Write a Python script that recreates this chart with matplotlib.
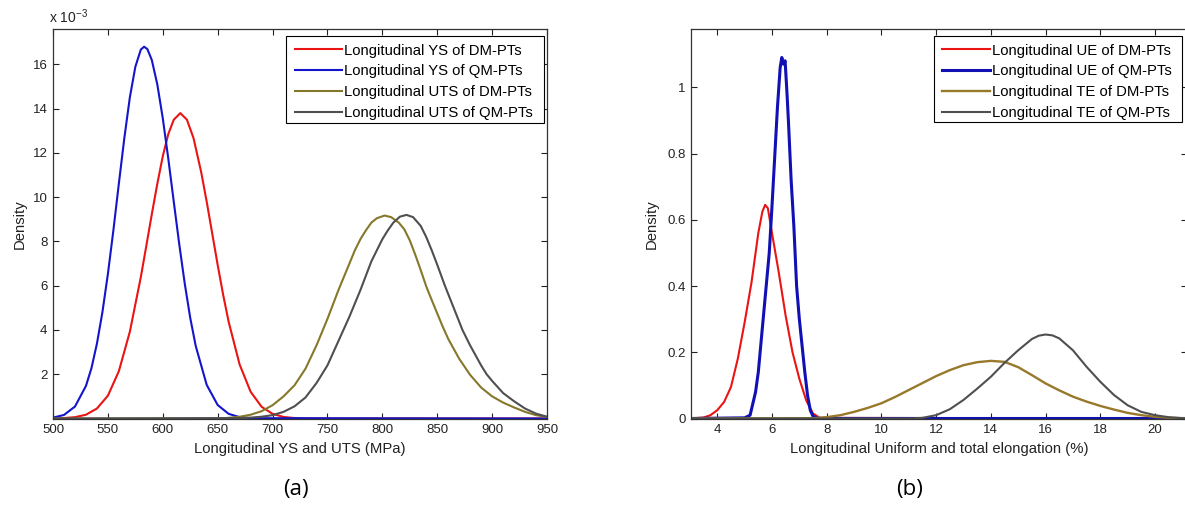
import matplotlib.pyplot as plt
from matplotlib.patches import Rectangle

plt.rcParams['font.family'] = ['Liberation Sans', 'DejaVu Sans']
plt.rcParams['mathtext.fontset'] = 'custom'
plt.rcParams['mathtext.rm'] = 'Liberation Sans'
plt.rcParams['mathtext.default'] = 'regular'

# (a) yield / tensile strength densities, values in 1e-3
ys_dm_x = [500, 510, 520, 530, 540, 550, 560, 570, 580, 585, 590, 595, 600, 605, 610, 616, 622, 628,
           635, 640, 645, 650, 655, 660, 670, 680, 690, 700, 710, 720, 730, 950]
ys_dm_y = [0.0, 0.02, 0.06, 0.17, 0.45, 1.03, 2.14, 3.92, 6.39, 7.8, 9.23, 10.6, 11.85, 12.85, 13.5,
           13.8, 13.5, 12.67, 11.13, 9.8, 8.37, 6.94, 5.59, 4.37, 2.44, 1.21, 0.53, 0.21, 0.07, 0.02,
           0.0, 0.0]

ys_qm_x = [500, 510, 520, 530, 535, 540, 545, 550, 555, 560, 565, 570, 575, 580, 583, 586, 590, 595,
           600, 605, 610, 615, 620, 625, 630, 640, 650, 660, 670, 680, 950]
ys_qm_y = [0.04, 0.16, 0.54, 1.47, 2.27, 3.38, 4.8, 6.53, 8.5, 10.62, 12.68, 14.51, 15.89, 16.67, 16.8,
           16.69, 16.2, 15.1, 13.57, 11.75, 9.8, 7.88, 6.1, 4.55, 3.28, 1.52, 0.61, 0.21, 0.06, 0.015,
           0.0]

uts_dm_x = [500, 650, 660, 670, 680, 690, 700, 710, 720, 730, 740, 750, 760, 765, 770, 775, 780, 785,
            790, 795, 802, 808, 815, 820, 825, 830, 835, 840, 845, 850, 855, 860, 870, 880, 890, 900,
            910, 920, 930, 940, 950]
uts_dm_y = [0.0, 0.0, 0.03, 0.08, 0.17, 0.33, 0.6, 1.0, 1.5, 2.25, 3.3, 4.5, 5.8, 6.4, 7.0, 7.6, 8.1,
            8.5, 8.85, 9.05, 9.17, 9.1, 8.85, 8.55, 8.05, 7.4, 6.7, 5.97, 5.35, 4.75, 4.15, 3.6, 2.7,
            1.97, 1.4, 1.0, 0.72, 0.5, 0.3, 0.15, 0.07]

uts_qm_x = [500, 670, 680, 690, 700, 710, 720, 730, 740, 750, 760, 770, 780, 785, 790, 795, 800, 805,
            810, 816, 822, 828, 835, 840, 845, 850, 857, 865, 873, 880, 890, 895, 900, 910, 920, 930,
            940, 950]
uts_qm_y = [0.0, 0.02, 0.04, 0.08, 0.15, 0.3, 0.55, 0.95, 1.6, 2.4, 3.5, 4.6, 5.8, 6.45, 7.1, 7.6, 8.1,
            8.5, 8.85, 9.12, 9.2, 9.1, 8.7, 8.2, 7.6, 6.95, 6.0, 5.0, 4.0, 3.3, 2.4, 2.0, 1.7, 1.15,
            0.78, 0.45, 0.22, 0.08]

# (b) uniform / total elongation densities
ue_dm_x = [3.0, 3.5, 3.75, 4.0, 4.25, 4.5, 4.75, 5.0, 5.25, 5.5, 5.65, 5.75, 5.85, 6.0, 6.25, 6.5, 6.75,
           7.0, 7.25, 7.5, 7.75, 21.5]
ue_dm_y = [0.0, 0.003, 0.01, 0.025, 0.05, 0.095, 0.18, 0.29, 0.41, 0.56, 0.625, 0.645, 0.635, 0.56, 0.44,
           0.31, 0.2, 0.12, 0.055, 0.015, 0.002, 0.0]

ue_qm_x = [3.0, 5.0, 5.2, 5.4, 5.5, 5.6, 5.7, 5.8, 5.9, 6.0, 6.1, 6.2, 6.3, 6.36, 6.42, 6.48, 6.55, 6.6,
           6.7, 6.8, 6.9, 7.0, 7.1, 7.2, 7.3, 7.4, 7.5, 7.7, 21.5]
ue_qm_y = [0.0, 0.002, 0.01, 0.08, 0.14, 0.23, 0.32, 0.41, 0.5, 0.64, 0.79, 0.94, 1.06, 1.09, 1.07,
           1.08, 0.98, 0.9, 0.72, 0.58, 0.4, 0.3, 0.22, 0.14, 0.07, 0.025, 0.007, 0.0, 0.0]

te_dm_x = [3.0, 7.5, 8.0, 8.5, 9.0, 9.5, 10, 10.5, 11, 11.5, 12, 12.5, 13, 13.5, 14, 14.5, 15, 15.5, 16,
           16.5, 17, 17.5, 18, 18.5, 19, 19.5, 20, 20.5, 21, 21.5]
te_dm_y = [0.0, 0.001, 0.004, 0.01, 0.02, 0.032, 0.046, 0.065, 0.086, 0.107, 0.128, 0.146, 0.161, 0.17,
           0.174, 0.171, 0.155, 0.131, 0.106, 0.085, 0.066, 0.051, 0.038, 0.027, 0.017, 0.01, 0.005,
           0.002, 0.001, 0.0]

te_qm_x = [3.0, 11.0, 11.5, 12, 12.5, 13, 13.5, 14, 14.5, 15, 15.5, 15.75, 16, 16.25, 16.5, 17, 17.5, 18,
           18.5, 19, 19.5, 20, 20.5, 21, 21.5]
te_qm_y = [0.0, 0.0, 0.002, 0.01, 0.028, 0.056, 0.09, 0.126, 0.168, 0.206, 0.24, 0.25, 0.2536, 0.251,
           0.242, 0.206, 0.156, 0.111, 0.071, 0.04, 0.02, 0.01, 0.004, 0.001, 0.0]

labels_a = ['Longitudinal YS of DM-PTs', 'Longitudinal YS of QM-PTs',
            'Longitudinal UTS of DM-PTs', 'Longitudinal UTS of QM-PTs']
labels_b = ['Longitudinal UE of DM-PTs', 'Longitudinal UE of QM-PTs',
            'Longitudinal TE of DM-PTs', 'Longitudinal TE of QM-PTs']

W, H = 1185, 508
fig = plt.figure(figsize=(W / 100, H / 100), dpi=100)

def px_axes(x0, x1, y0, y1):
    return fig.add_axes([x0 / W, 1 - y1 / H, (x1 - x0) / W, (y1 - y0) / H])

ax1 = px_axes(53, 547, 29, 418.5)
ax2 = px_axes(691, 1187, 29, 418.5)

red, blue, olive, grey = '#ea1414', '#1414cc', '#86782a', '#4f4f4f'

ax1.plot(ys_dm_x, ys_dm_y, color=red, lw=1.5, label=labels_a[0])
ax1.plot(ys_qm_x, ys_qm_y, color=blue, lw=1.5, label=labels_a[1])
ax1.plot(uts_dm_x, uts_dm_y, color=olive, lw=1.5, label=labels_a[2])
ax1.plot(uts_qm_x, uts_qm_y, color=grey, lw=1.5, label=labels_a[3])

ax2.plot(ue_dm_x, ue_dm_y, color=red, lw=1.5, label=labels_b[0])
ax2.plot(ue_qm_x, ue_qm_y, color='#1010b4', lw=2.2, label=labels_b[1])
ax2.plot(te_dm_x, te_dm_y, color='#98782a', lw=1.7, label=labels_b[2])
ax2.plot(te_qm_x, te_qm_y, color=grey, lw=1.5, label=labels_b[3])

ax1.set_xlim(500, 950)
ax1.set_ylim(0, 17.6)
ax1.set_xticks(range(500, 951, 50))
ax1.set_yticks(range(2, 17, 2))
ax1.set_xlabel('Longitudinal YS and UTS (MPa)', fontsize=10.7, labelpad=4, color='#222222')
ax1.set_ylabel('Density', fontsize=10.7, labelpad=4, color='#222222')
fig.text(49 / W, 1 - 17 / H, 'x 10$^{-3}$', fontsize=10, va='center', ha='left', color='#222222')

ax2.set_xlim(3.04, 21.17)
ax2.set_ylim(0, 1.176)
ax2.set_xticks(range(4, 21, 2))
ax2.set_yticks([0, 0.2, 0.4, 0.6, 0.8, 1])
ax2.set_yticklabels(['0', '0.2', '0.4', '0.6', '0.8', '1'])
ax2.set_xlabel('Longitudinal Uniform and total elongation (%)', fontsize=10.7, labelpad=4, color='#222222')
ax2.set_ylabel('Density', fontsize=10.7, labelpad=6, color='#222222')

for ax in (ax1, ax2):
    ax.tick_params(direction='in', length=4, width=0.8, top=True, right=True,
                   labelsize=9.5, pad=4, colors='#222222')
    for s in ax.spines.values():
        s.set_color('#333333')
        s.set_linewidth(0.9)

leg_kw = dict(loc='upper left', bbox_transform=fig.transFigure, borderaxespad=0,
              fontsize=10.7, handlelength=3.2, handletextpad=0.15, labelspacing=0.46,
              borderpad=0, frameon=False)
ax1.legend(bbox_to_anchor=(294.5 / W, 1 - 43.5 / H), **leg_kw)
ax2.legend(bbox_to_anchor=(942.5 / W, 1 - 43.5 / H), **leg_kw)

# legend boxes, drawn as plain rectangles under the legend entries
for ax, (x0, y0, x1, y1) in ((ax1, (286, 36, 543.6, 123.3)), (ax2, (934, 36, 1182, 122.3))):
    ax.add_patch(Rectangle((x0 / W, 1 - y1 / H), (x1 - x0) / W, (y1 - y0) / H,
                           transform=fig.transFigure, facecolor='white', edgecolor='black',
                           lw=0.8, clip_on=False, zorder=4))

fig.text(296 / W, 1 - 489 / H, '(a)', fontsize=16, family='Open Sans', ha='center', va='center')
fig.text(910 / W, 1 - 489 / H, '(b)', fontsize=16, family='Open Sans', ha='center', va='center')

fig.savefig('out.png', dpi=100)
